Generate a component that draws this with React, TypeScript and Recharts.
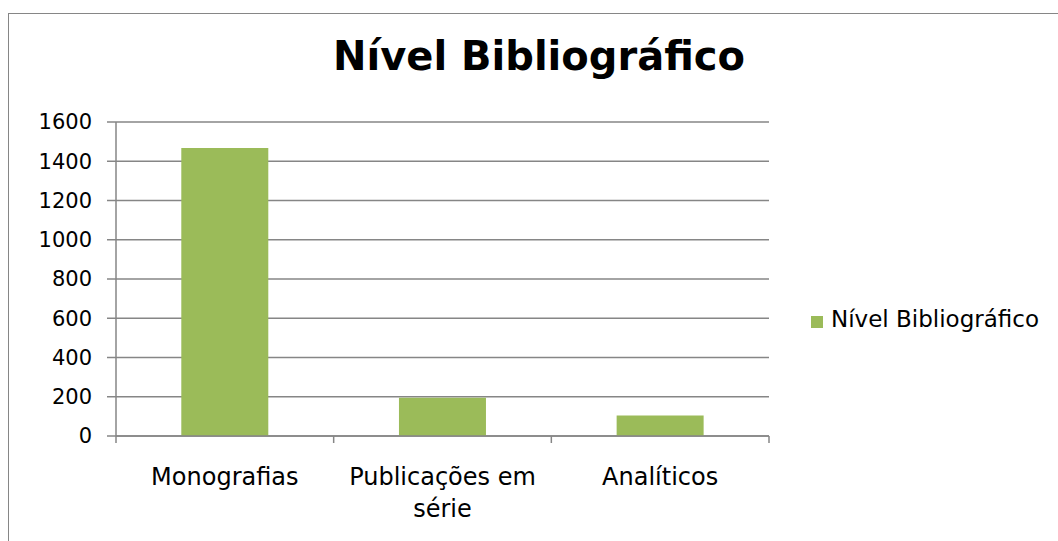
import { BarChart, Bar, XAxis, YAxis, CartesianGrid } from "recharts";

const categories = ["Monografias", "Publicações em série", "Analíticos"];
const values = [1468, 195, 105];
const yTicks = [0, 200, 400, 600, 800, 1000, 1200, 1400, 1600];
const seriesName = "Nível Bibliográfico";
const chartTitle = "Nível Bibliográfico";

const data = categories.map((name, i) => ({ name, value: values[i] }));

const W = 1058;
const H = 541;
const MARGIN = { top: 122, right: 289, bottom: 45, left: 0 };
const Y_WIDTH = 116;
const PLOT_W = W - MARGIN.left - MARGIN.right - Y_WIDTH;
const BAND = PLOT_W / categories.length;
const GRAY = "#868686";
const GREEN = "#9BBB59";
const FONT = "'DejaVu Sans', sans-serif";

// greedy word wrap measured on a canvas
let ctx: CanvasRenderingContext2D | null = null;
function wrap(label: string, maxWidth: number, font: string): string[] {
  if (!ctx) ctx = document.createElement("canvas").getContext("2d");
  if (!ctx) return [label];
  ctx.font = font;
  const lines: string[] = [];
  let cur = "";
  for (const word of label.split(" ")) {
    const next = cur ? cur + " " + word : word;
    if (cur && ctx.measureText(next).width > maxWidth) {
      lines.push(cur);
      cur = word;
    } else {
      cur = next;
    }
  }
  if (cur) lines.push(cur);
  return lines;
}

function CategoryTick(props: any) {
  const { x, y, payload, index } = props;
  const last = index === categories.length - 1;
  const lines = wrap(String(payload.value), 200, `24px ${FONT}`);
  return (
    <g>
      <line x1={x - BAND / 2} y1={y} x2={x - BAND / 2} y2={y + 7} stroke={GRAY} strokeWidth={1.5} />
      {last && (
        <line x1={x + BAND / 2} y1={y} x2={x + BAND / 2} y2={y + 7} stroke={GRAY} strokeWidth={1.5} />
      )}
      <text x={x} y={y + 49} textAnchor="middle" fontSize={24} fontFamily={FONT} fill="#000">
        {lines.map((l, i) => (
          <tspan key={i} x={x} dy={i === 0 ? 0 : 32}>
            {l}
          </tspan>
        ))}
      </text>
    </g>
  );
}

export default function App() {
  return (
    <div
      style={{
        position: "fixed",
        left: 0,
        top: 0,
        width: W,
        height: H,
        overflow: "hidden",
        background: "#fff",
        fontFamily: FONT,
      }}
    >
      <div
        style={{
          position: "absolute",
          left: 8,
          top: 13,
          width: 1100,
          height: 600,
          border: `1px solid ${GRAY}`,
        }}
      />
      <div
        style={{
          position: "absolute",
          left: 0,
          top: 36,
          width: 1078,
          textAlign: "center",
          fontSize: 40,
          lineHeight: "40px",
          fontWeight: "bold",
          color: "#000",
        }}
      >
        {chartTitle}
      </div>
      <div style={{ position: "absolute", left: 0, top: 0 }}>
        <BarChart width={W} height={H} data={data} margin={MARGIN} barCategoryGap="30%">
          <CartesianGrid horizontal vertical={false} stroke={GRAY} strokeWidth={1.5} />
          <XAxis
            dataKey="name"
            height={60}
            tickLine={false}
            tickSize={0}
            tickMargin={0}
            axisLine={{ stroke: GRAY, strokeWidth: 1.5 }}
            tick={<CategoryTick />}
            interval={0}
          />
          <YAxis
            width={Y_WIDTH}
            domain={[0, 1600]}
            ticks={yTicks}
            tickSize={9}
            tickMargin={15}
            axisLine={{ stroke: GRAY, strokeWidth: 1.5 }}
            tickLine={{ stroke: GRAY, strokeWidth: 1.5 }}
            tick={{ fontSize: 21, fill: "#000", fontFamily: FONT }}
          />
          <Bar dataKey="value" name={seriesName} fill={GREEN} isAnimationActive={false} />
        </BarChart>
      </div>
      <div
        style={{
          position: "absolute",
          left: 811,
          top: 316,
          width: 12,
          height: 12,
          background: GREEN,
        }}
      />
      <div
        style={{
          position: "absolute",
          left: 831,
          top: 308,
          fontSize: 23,
          lineHeight: "23px",
          color: "#000",
          whiteSpace: "nowrap",
        }}
      >
        {seriesName}
      </div>
    </div>
  );
}
